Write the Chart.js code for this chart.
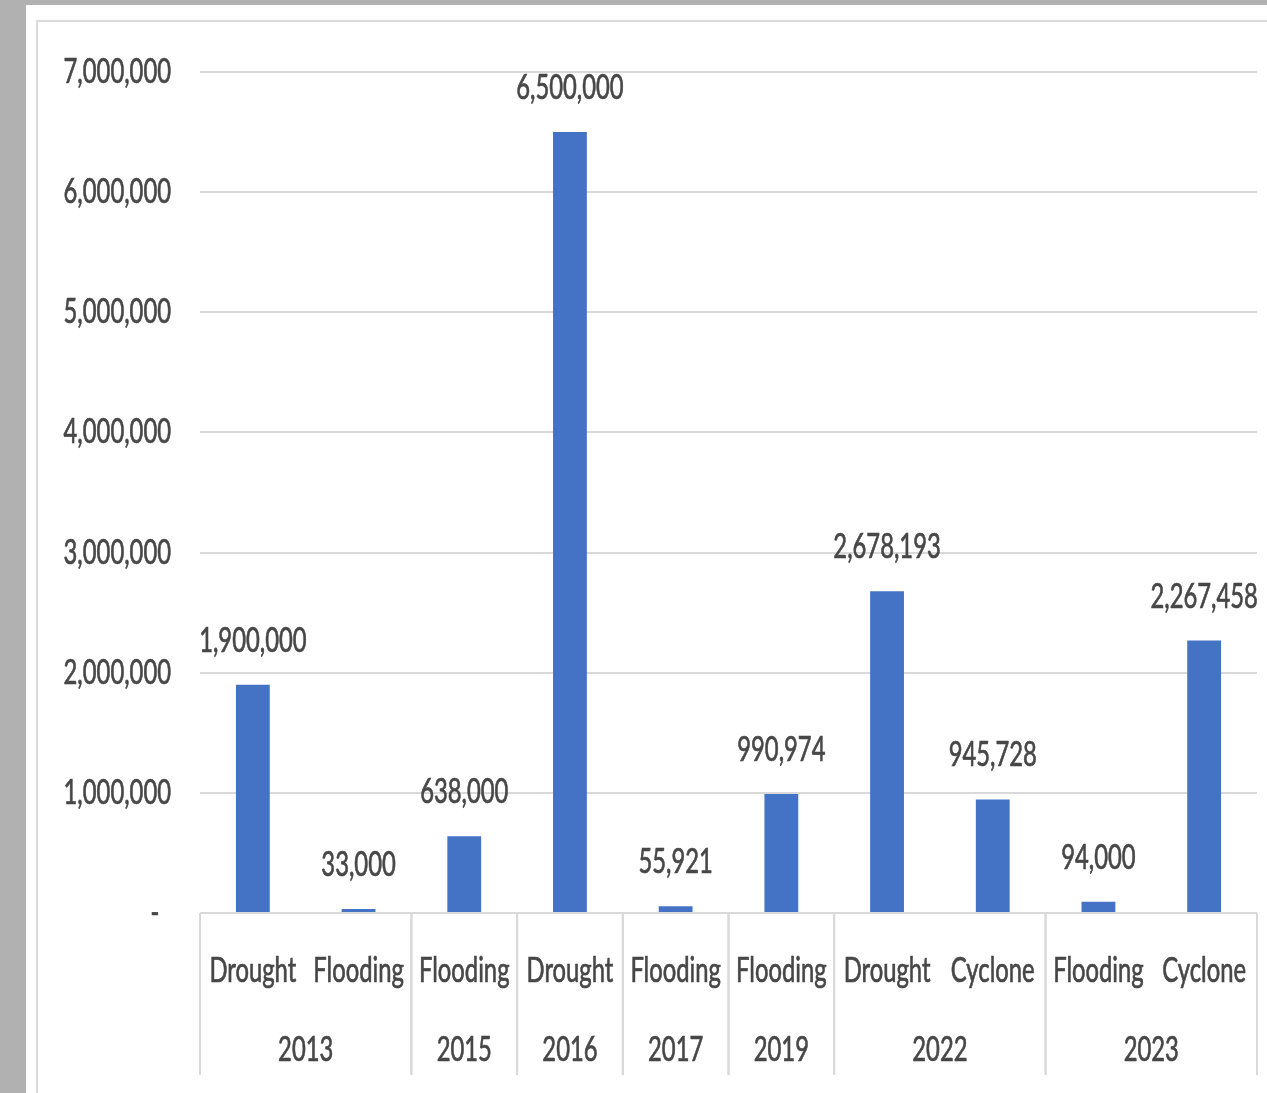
<!DOCTYPE html>
<html>
<head>
<meta charset="utf-8">
<script src="https://cdn.jsdelivr.net/npm/chart.js@4.4.1/dist/chart.umd.min.js"></script>
<style>
    html, body { margin: 0; padding: 0; width: 1267px; height: 1093px; overflow: hidden; background: #b1b1b1; }
    .panel { position: absolute; left: 26px; top: 5px; right: 0; bottom: 0; background: #fff; }
    .frame { position: absolute; left: 36px; top: 20px; right: -4px; bottom: -4px; border: 2px solid #dadada; }
    #chart { position: absolute; left: 0; top: 0; }
</style>
</head>
<body>
<div class="panel"></div>
<div class="frame"></div>
<canvas id="chart" width="1267" height="1093"></canvas>
<script>
// People affected by event type and year
const hazards = ['Drought', 'Flooding', 'Flooding', 'Drought', 'Flooding', 'Flooding', 'Drought', 'Cyclone', 'Flooding', 'Cyclone'];
const years = ['2013', '2013', '2015', '2016', '2017', '2019', '2022', '2022', '2023', '2023'];
const affected = [1900000, 33000, 638000, 6500000, 55921, 990974, 2678193, 945728, 94000, 2267458];
const yTicks = [0, 1000000, 2000000, 3000000, 4000000, 5000000, 6000000, 7000000];

const FONT = '34px Lato, "Open Sans", sans-serif';
const SQUEEZE = 0.7;   // narrow, Calibri-like lettering
const TEXT = '#474747';
const LINE = '#d9d9d9';

const fmt = v => v.toLocaleString('en-US');

// draw horizontally condensed text, anchored at (x, baseline y)
function drawText(ctx, str, x, y, align) {
    ctx.save();
    ctx.translate(x, y);
    ctx.scale(SQUEEZE, 1);
    ctx.font = FONT;
    ctx.fillStyle = TEXT;
    ctx.strokeStyle = TEXT;
    ctx.lineWidth = 0.7;
    ctx.textAlign = align || 'center';
    ctx.textBaseline = 'alphabetic';
    ctx.fillText(str, 0, 0);
    ctx.strokeText(str, 0, 0);
    ctx.restore();
}

// Y tick labels (accounting style: zero shown as a dash)
const yLabels = {
    id: 'yLabels',
    afterDraw(chart) {
        const y = chart.scales.y;
        yTicks.forEach(v => {
            const py = y.getPixelForValue(v);
            if (v === 0) drawText(chart.ctx, '-', 155, py + 11, 'center');
            else drawText(chart.ctx, fmt(v), 171, py + 11, 'right');
        });
    }
};

// Value labels over each bar
const valueLabels = {
    id: 'valueLabels',
    afterDatasetsDraw(chart) {
        const meta = chart.getDatasetMeta(0);
        meta.data.forEach((bar, i) => {
            drawText(chart.ctx, fmt(affected[i]), bar.x, bar.y - 33);
        });
    }
};

// Two-level category axis (hazard row + year row with group dividers)
const groupAxis = {
    id: 'groupAxis',
    afterDraw(chart) {
        const ctx = chart.ctx;
        const x = chart.scales.x;
        const area = chart.chartArea;
        const half = (x.getPixelForValue(1) - x.getPixelForValue(0)) / 2;
        const rowTop = area.bottom;
        const rowBottom = area.bottom + 162;
        ctx.save();
        ctx.strokeStyle = LINE;
        ctx.lineWidth = 2;
        ctx.beginPath();
        ctx.moveTo(area.left, rowTop);
        ctx.lineTo(area.right, rowTop);
        ctx.stroke();

        hazards.forEach((h, i) => {
            drawText(ctx, h, x.getPixelForValue(i), rowTop + 69);
        });

        let start = 0;
        for (let i = 0; i <= years.length; i++) {
            if (i === years.length || years[i] !== years[start]) {
                const left = x.getPixelForValue(start) - half;
                const right = x.getPixelForValue(i - 1) + half;
                drawText(ctx, years[start], (left + right) / 2, rowTop + 148);
                ctx.strokeStyle = LINE;
                ctx.lineWidth = 2;
                ctx.beginPath();
                ctx.moveTo(left, rowTop);
                ctx.lineTo(left, rowBottom);
                ctx.moveTo(right, rowTop);
                ctx.lineTo(right, rowBottom);
                ctx.stroke();
                start = i;
            }
        }
        ctx.restore();
    }
};

new Chart(document.getElementById('chart'), {
    type: 'bar',
    data: {
        labels: hazards,
        datasets: [{
            data: affected,
            backgroundColor: '#4472c4',
            barPercentage: 0.32,
            categoryPercentage: 1
        }]
    },
    options: {
        responsive: false,
        animation: false,
        layout: { padding: { left: 0, top: 72, right: 10, bottom: 180 } },
        plugins: {
            legend: { display: false },
            tooltip: { enabled: false }
        },
        scales: {
            x: { display: false },
            y: {
                min: 0,
                max: 7000000,
                afterFit: scale => { scale.width = 200; },
                afterBuildTicks: scale => { scale.ticks = yTicks.map(v => ({ value: v })); },
                border: { display: false },
                grid: { color: LINE, lineWidth: 2, drawTicks: false },
                ticks: { display: false }
            }
        }
    },
    plugins: [yLabels, valueLabels, groupAxis]
});
</script>
</body>
</html>
